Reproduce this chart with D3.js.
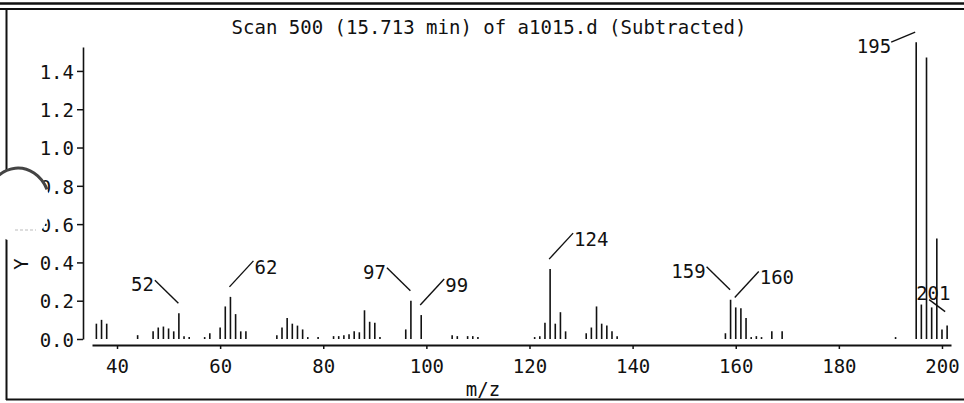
<!DOCTYPE html>
<html>
<head>
<meta charset="utf-8">
<script src="https://cdn.jsdelivr.net/npm/d3@7/dist/d3.min.js"></script>
<style>
  body { margin: 0; background: #fff; }
  svg { display: block; background: #fff; }
</style>
</head>
<body>
<div id="spectrum"></div>
<script>

// peaks: m/z and abundance (scale as printed on the axis)
var mzValues = [36, 37, 38, 44, 47, 48, 49, 50, 51, 52, 53, 54, 57, 58,
    60, 61, 62, 63, 64, 65, 71, 72, 73, 74, 75, 76, 77, 79,
    82, 83, 84, 85, 86, 87, 88, 89, 90, 91, 96, 97, 99,
    105, 106, 108, 109, 110, 121, 122, 123, 124, 125, 126, 127,
    131, 132, 133, 134, 135, 136, 137, 158, 159, 160, 161, 162, 163, 164, 165, 167, 169,
    191, 195, 196, 197, 198, 199, 200, 201];
var abundance = [0.08, 0.10, 0.08, 0.02, 0.04, 0.06, 0.065, 0.055, 0.04, 0.135, 0.015, 0.01, 0.01, 0.03,
    0.06, 0.17, 0.22, 0.13, 0.04, 0.04, 0.02, 0.06, 0.11, 0.08, 0.07, 0.05, 0.01, 0.01,
    0.015, 0.015, 0.02, 0.025, 0.04, 0.035, 0.15, 0.09, 0.085, 0.01, 0.05, 0.20, 0.125,
    0.02, 0.015, 0.015, 0.015, 0.01, 0.01, 0.015, 0.085, 0.365, 0.08, 0.14, 0.04,
    0.03, 0.06, 0.17, 0.08, 0.07, 0.04, 0.015, 0.03, 0.205, 0.165, 0.16, 0.11, 0.01, 0.015, 0.01, 0.04, 0.04,
    0.01, 1.55, 0.18, 1.47, 0.165, 0.525, 0.05, 0.07];

var labelledPeaks = [52, 62, 97, 99, 124, 159, 160, 195, 201];

var xTicks = [40, 60, 80, 100, 120, 140, 160, 180, 200];
var yTicks = [0, 0.2, 0.4, 0.6, 0.8, 1.0, 1.2, 1.4];
var yTickLabels = ["0.0", "0.2", "0.4", "0.6", "0.8", "1.0", "1.2", "1.4"];

var chartTitle = "Scan 500 (15.713 min) of a1015.d (Subtracted)";
var xLabel = "m/z";
var yLabel = "Y";


function main() {

    var width = 964, height = 403;
    var font = "'DejaVu Sans Mono', 'Liberation Mono', monospace";
    var ink = "#111";

    var svg = d3.select("#spectrum")
        .append("svg")
        .attr("width", width)
        .attr("height", height);

    // scales (axis spans a bit past 35..201)
    var x = d3.scaleLinear().domain([35.15, 201.75]).range([92, 951]);
    var y = d3.scaleLinear().domain([0, 1.525]).range([339, 47]);

    // frame of the printout
    svg.append("line").attr("x1", 0).attr("x2", width).attr("y1", 3.5).attr("y2", 3.5)
        .attr("stroke", ink).attr("stroke-width", 2.5);
    svg.append("line").attr("x1", 0).attr("x2", width).attr("y1", 9).attr("y2", 9)
        .attr("stroke", ink).attr("stroke-width", 2);
    svg.append("line").attr("x1", 6.5).attr("x2", 6.5).attr("y1", 9).attr("y2", 400)
        .attr("stroke", ink).attr("stroke-width", 2);
    svg.append("line").attr("x1", 6).attr("x2", width).attr("y1", 399.5).attr("y2", 399.5)
        .attr("stroke", ink).attr("stroke-width", 2);

    // title
    svg.append("text")
        .attr("x", 489)
        .attr("y", 34)
        .attr("text-anchor", "middle")
        .attr("font-family", font)
        .attr("font-size", 19)
        .attr("fill", ink)
        .text(chartTitle);

    // X axis
    var xAxis = svg.append("g")
        .attr("transform", "translate(0,345)")
        .call(d3.axisBottom(x).tickValues(xTicks).tickSize(4).tickSizeOuter(0));
    xAxis.select(".domain").attr("stroke", ink).attr("stroke-width", 2);
    xAxis.selectAll(".tick line").attr("stroke", ink).attr("stroke-width", 1.5);
    xAxis.selectAll(".tick text")
        .attr("y", 15)
        .attr("font-family", font)
        .attr("font-size", 19)
        .attr("fill", ink);

    // Y axis
    var yAxis = svg.append("g")
        .attr("transform", "translate(83,0)")
        .call(d3.axisLeft(y).tickValues(yTicks)
            .tickFormat(function (d, i) { return yTickLabels[i]; })
            .tickSize(6).tickSizeOuter(0));
    yAxis.select(".domain").attr("stroke", ink).attr("stroke-width", 1.6);
    yAxis.selectAll(".tick line").attr("stroke", ink).attr("stroke-width", 1.5);
    yAxis.selectAll(".tick text")
        .attr("x", -9)
        .attr("dy", "0.38em")
        .attr("font-family", font)
        .attr("font-size", 19)
        .attr("fill", ink);

    // axis labels
    svg.append("text")
        .attr("x", 483)
        .attr("y", 396)
        .attr("text-anchor", "middle")
        .attr("font-family", font)
        .attr("font-size", 19)
        .attr("fill", ink)
        .text(xLabel);

    svg.append("text")
        .attr("transform", "translate(28,264) rotate(-90)")
        .attr("text-anchor", "middle")
        .attr("font-family", font)
        .attr("font-size", 19)
        .attr("fill", ink)
        .text(yLabel);

    // peaks as sticks
    var peaks = mzValues.map(function (m, i) { return {mz: m, ab: abundance[i]}; });

    svg.append("g")
        .selectAll("line")
        .data(peaks)
        .join("line")
            .attr("x1", function (d) { return x(d.mz); })
            .attr("x2", function (d) { return x(d.mz); })
            .attr("y1", y(0))
            .attr("y2", function (d) { return Math.min(y(d.ab), y(0) - 1.5); })
            .attr("stroke", ink)
            .attr("stroke-width", 1.6);

    // peak labels with leader lines
    var leftSide = [52, 97, 159];
    var lab = svg.append("g");
    labelledPeaks.forEach(function (m) {
        var d = peaks.find(function (p) { return p.mz === m; });
        var bx = x(d.mz), top = y(d.ab);
        var x1, y1, x2, y2, tx, ty, anchor;
        if (m === 195) {
            x1 = bx - 1; y1 = top - 10; x2 = bx - 25; y2 = top;
            tx = x2; ty = y2 + 11; anchor = "end";
        } else if (m === 201) {
            x1 = bx - 2; y1 = top - 14; x2 = bx - 18; y2 = top - 26;
            tx = bx - 31; ty = top - 26; anchor = "start";
        } else if (leftSide.indexOf(m) >= 0) {
            x1 = bx - 0.5; y1 = top - 10; x2 = bx - 24; y2 = top - 33;
            tx = x2 - 1; ty = y2 + 11; anchor = "end";
        } else {
            x1 = bx - 1; y1 = top - 10; x2 = bx + 23; y2 = top - 36;
            tx = x2 + 1; ty = y2 + 13; anchor = "start";
        }
        lab.append("line")
            .attr("x1", x1).attr("y1", y1)
            .attr("x2", x2).attr("y2", y2)
            .attr("stroke", ink)
            .attr("stroke-width", 1.4);
        lab.append("text")
            .attr("x", tx)
            .attr("y", ty)
            .attr("text-anchor", anchor)
            .attr("font-family", font)
            .attr("font-size", 19)
            .attr("fill", ink)
            .text(m);
    });

    // punch hole left on the scan, covers part of the y labels
    svg.append("ellipse")
        .attr("cx", 18).attr("cy", 205)
        .attr("rx", 32).attr("ry", 37)
        .attr("fill", "#fff");
    svg.append("path")
        .attr("d", "M -12.9 195.4 A 32 37 0 0 1 47 189.4")
        .attr("fill", "none")
        .attr("stroke", "#444")
        .attr("stroke-width", 3);
    svg.append("line")
        .attr("x1", 15).attr("x2", 36).attr("y1", 230).attr("y2", 230)
        .attr("stroke", "#bbb").attr("stroke-width", 1).attr("stroke-dasharray", "3,2");
}

main()

</script>
</body>
</html>
